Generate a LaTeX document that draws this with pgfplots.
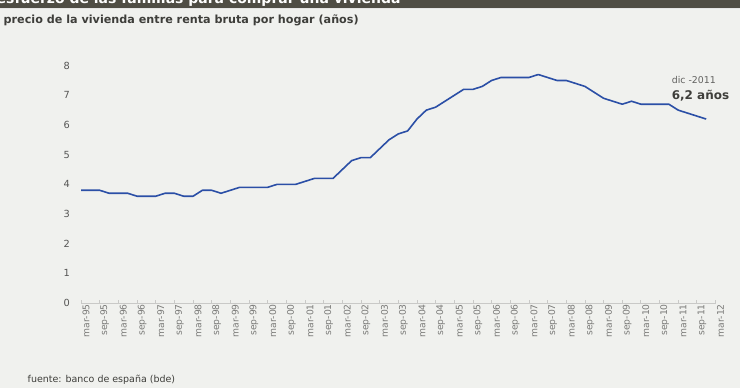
\documentclass[border=0pt]{standalone}
\usepackage{pgfplots}
\pgfplotsset{compat=1.18}
\usepackage{fontspec}
\setmainfont{DejaVu Sans}
\definecolor{bg}{HTML}{F0F1EE}
\definecolor{band}{HTML}{4F4D44}
\definecolor{gridc}{HTML}{C9C9C7}
\definecolor{lineblue}{HTML}{2B4FA6}
\definecolor{ticktxt}{HTML}{7A7A78}
\definecolor{titletxt}{HTML}{3E3E3A}
\begin{document}
\begin{tikzpicture}[x=1pt,y=1pt]
\fill[bg] (0,0) rectangle (740,389);
\fill[band] (0,381) rectangle (740,389);
\draw[white!80!gray, line width=1pt] (0,380.5) -- (740,380.5);
\begin{scope}
\clip (0,381) rectangle (740,389);
\node[anchor=base west, inner sep=0pt, text=white, font=\bfseries\fontsize{14}{16}\selectfont] at (-4,385.5) {esfuerzo de las familias para comprar una vivienda};
\end{scope}
\node[anchor=west, inner sep=0pt, text=titletxt, font=\bfseries\fontsize{11.2}{13}\selectfont] at (3,369) {precio de la vivienda\ entre renta bruta por hogar (años)};
\node[anchor=west, inner sep=0pt, text=titletxt, font=\fontsize{9.5}{11}\selectfont] at (27,9) {fuente: banco de españa (bde)};
\begin{axis}[
  at={(80.7pt,85.5pt)}, anchor=origin,
  scale only axis, width=635.3pt, height=237.8pt,
  xmin=0, xmax=68, ymin=0, ymax=8,
  axis x line=bottom, axis y line=none,
  axis line style={gridc, line width=1pt, -},
  x axis line style={-},
  xtick={0,2,...,68},
  xticklabels={mar-95,sep-95,mar-96,sep-96,mar-97,sep-97,mar-98,sep-98,mar-99,sep-99,mar-00,sep-00,mar-01,sep-01,mar-02,sep-02,mar-03,sep-03,mar-04,sep-04,mar-05,sep-05,mar-06,sep-06,mar-07,sep-07,mar-08,sep-08,mar-09,sep-09,mar-10,sep-10,mar-11,sep-11,mar-12},
  xticklabel style={rotate=90, anchor=east, text=ticktxt, font=\fontsize{9.2}{10}\selectfont, inner sep=1pt, yshift=-5pt},
  major tick length=3pt,
  tick style={gridc, line width=0.8pt},
  tick align=inside,
  ytick={1,...,8},
  ymajorgrids, grid style={gridc, line width=1.3pt},
  clip=false,
]
\addplot[lineblue, line width=1.6pt, line join=round] table[x=i, y=v] {
i v
0 3.8
1 3.8
2 3.8
3 3.7
4 3.7
5 3.7
6 3.6
7 3.6
8 3.6
9 3.7
10 3.7
11 3.6
12 3.6
13 3.8
14 3.8
15 3.7
16 3.8
17 3.9
18 3.9
19 3.9
20 3.9
21 4.0
22 4.0
23 4.0
24 4.1
25 4.2
26 4.2
27 4.2
28 4.5
29 4.8
30 4.9
31 4.9
32 5.2
33 5.5
34 5.7
35 5.8
36 6.2
37 6.5
38 6.6
39 6.8
40 7.0
41 7.2
42 7.2
43 7.3
44 7.5
45 7.6
46 7.6
47 7.6
48 7.6
49 7.7
50 7.6
51 7.5
52 7.5
53 7.4
54 7.3
55 7.1
56 6.9
57 6.8
58 6.7
59 6.8
60 6.7
61 6.7
62 6.7
63 6.7
64 6.5
65 6.4
66 6.3
67 6.2
};
\foreach \k in {0,...,8} {
  \edef\tmp{\noexpand\node[anchor=east, inner sep=0pt, text=ticktxt!70!black, font=\noexpand\fontsize{9.8}{11}\noexpand\selectfont] at (axis cs:0,\k) [xshift=-11pt] {\k};}
  \tmp
}
\end{axis}
\node[anchor=west, inner sep=0pt, text=ticktxt!80!black, font=\fontsize{9.4}{11}\selectfont] at (672,309) {dic -2011};
\node[anchor=west, inner sep=0pt, text=titletxt, font=\bfseries\fontsize{12}{14}\selectfont] at (672,293) {6,2 años};
\end{tikzpicture}
\end{document}
